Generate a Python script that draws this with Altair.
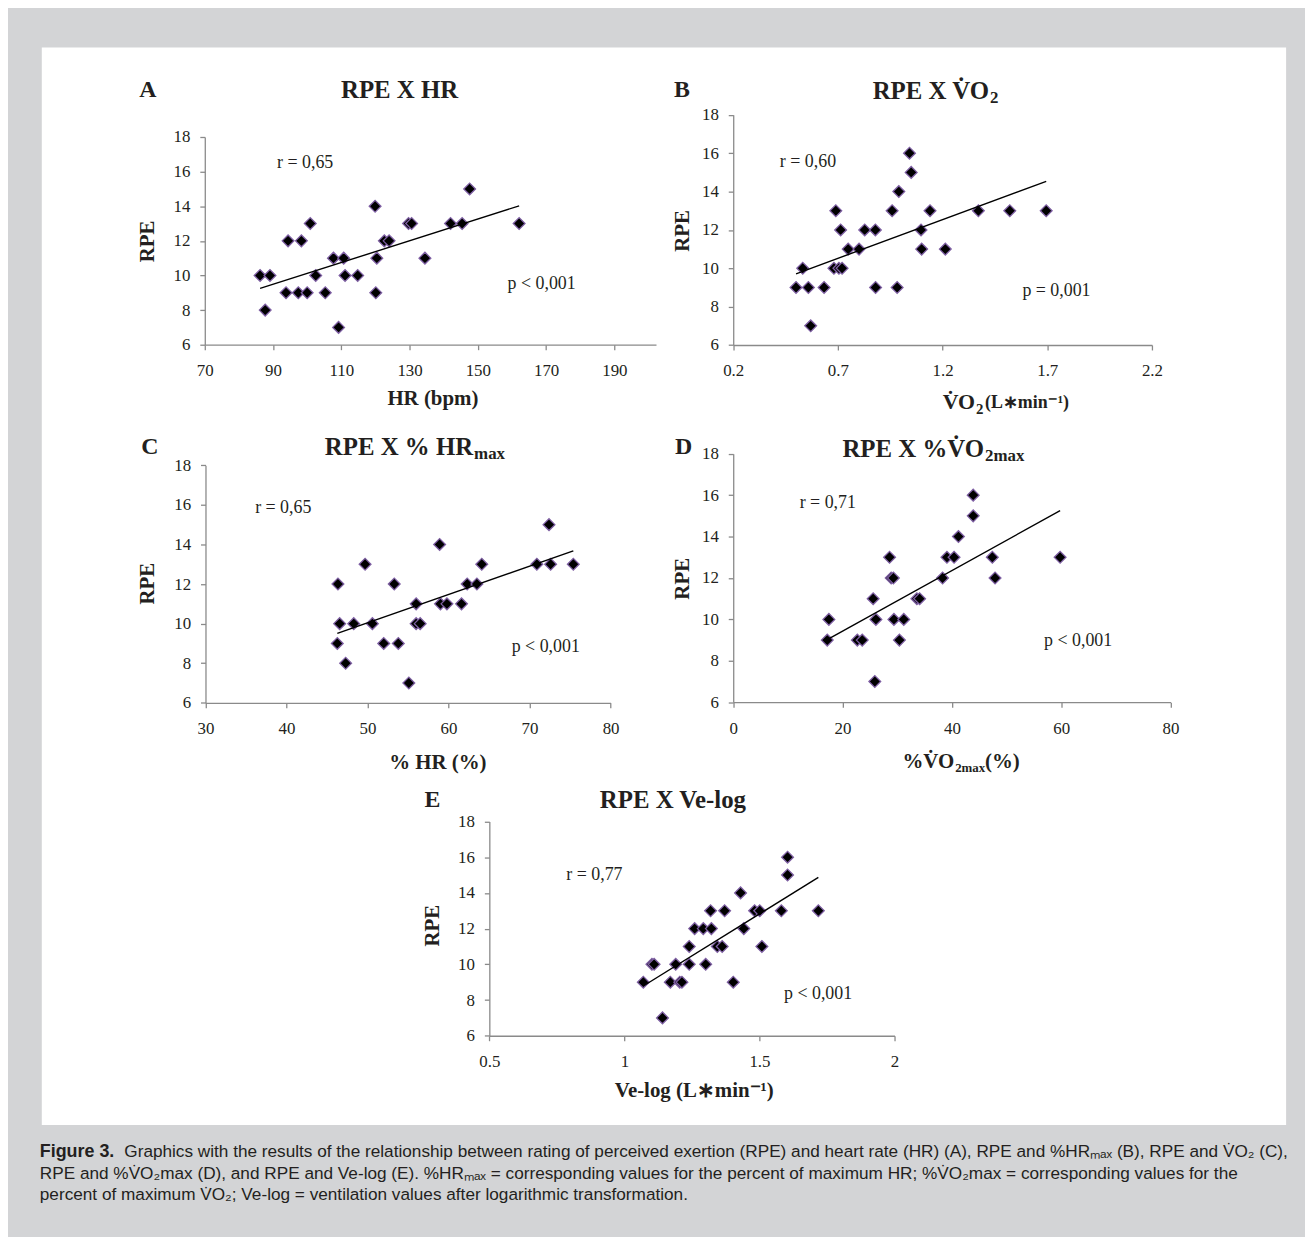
import altair as alt
import pandas as pd

# ---------------- data ----------------
A_hr = [86.2, 89.1, 87.7, 93.8, 94.4, 97.4, 98.3, 100.0, 100.9, 102.5, 105.3, 107.7, 109.2, 110.7,
        111.1, 114.8, 119.9, 120.1, 120.4, 122.6, 124.0, 129.7, 130.6, 134.5, 142.0, 145.4, 147.6, 162.1]
A_rpe = [10, 10, 8, 9, 12, 9, 12, 9, 13, 10, 9, 11, 7, 11, 10, 10, 14, 9, 11, 12, 12, 13, 13, 11, 13, 13, 15, 13]

B_vo2 = [0.50, 0.532, 0.559, 0.570, 0.634, 0.681, 0.690, 0.705, 0.713, 0.720, 0.749, 0.801, 0.828, 0.879,
         0.880, 0.959, 0.983, 0.991, 1.042, 1.050, 1.097, 1.100, 1.140, 1.213, 1.371, 1.521, 1.695]
B_rpe = [9, 10, 9, 7, 9, 10, 13, 10, 12, 10, 11, 11, 12, 12, 9, 13, 9, 14, 16, 15, 12, 11, 13, 11, 13, 13, 13]

C_pct_hr = [46.35, 46.27, 46.56, 47.3, 48.3, 49.7, 50.6, 52.0, 53.3, 53.8, 55.1, 56.0, 56.0, 56.5, 58.9,
            59.0, 59.8, 61.6, 62.3, 63.5, 64.1, 70.9, 72.4, 72.6, 75.4]
C_rpe = [12, 9, 10, 8, 10, 13, 10, 9, 12, 9, 7, 11, 10, 10, 14, 11, 11, 11, 12, 12, 13, 13, 15, 13, 13]

D_pct_vo2 = [17.2, 17.5, 22.7, 23.6, 25.6, 25.9, 26.1, 28.6, 28.9, 29.3, 29.4, 30.4, 31.2, 33.6, 34.1,
             38.3, 39.1, 40.4, 41.2, 43.9, 43.9, 47.4, 47.9, 59.8]
D_rpe = [9, 10, 9, 9, 11, 7, 10, 13, 12, 12, 10, 9, 10, 11, 11, 12, 13, 13, 14, 16, 15, 13, 12, 13]

E_velog = [1.070, 1.102, 1.110, 1.141, 1.170, 1.190, 1.205, 1.213, 1.240, 1.240, 1.260, 1.292, 1.301, 1.319,
           1.322, 1.344, 1.362, 1.371, 1.403, 1.430, 1.442, 1.482, 1.501, 1.509, 1.581, 1.604, 1.604, 1.718]
E_rpe = [9, 10, 10, 7, 9, 10, 9, 9, 11, 10, 12, 12, 10, 13, 12, 11, 11, 13, 9, 14, 12, 13, 13, 11, 13, 16, 15, 13]

RPE_ticks = [6, 8, 10, 12, 14, 16, 18]
A_ticks = [70, 90, 110, 130, 150, 170, 190]
B_ticks = [0.2, 0.7, 1.2, 1.7, 2.2]
C_ticks = [30, 40, 50, 60, 70, 80]
D_ticks = [0, 20, 40, 60, 80]
E_ticks = [0.5, 1, 1.5, 2]

stats_A = ["r = 0,65", "p < 0,001"]
stats_B = ["r = 0,60", "p = 0,001"]
stats_C = ["r = 0,65", "p < 0,001"]
stats_D = ["r = 0,71", "p < 0,001"]
stats_E = ["r = 0,77", "p < 0,001"]

caption_bold = "Figure 3."
caption_lines = [
    "Graphics with the results of the relationship between rating of perceived exertion (RPE) and heart rate (HR) (A), RPE and %HR\u2098\u2090\u2093 (B), RPE and V\u0307O\u2082 (C),",
    "RPE and %V\u0307O\u2082max (D), and RPE and Ve-log (E). %HR\u2098\u2090\u2093 = corresponding values for the percent of maximum HR; %V\u0307O\u2082max = corresponding values for the",
    "percent of maximum V\u0307O\u2082; Ve-log = ventilation values after logarithmic transformation.",
]

# ---------------- layout / style ----------------
W, H = 1305, 1229
M = 8  # page margin
SERIF = "Liberation Serif"
SANS = "Liberation Sans"
TXT = "#231f20"
AXC = "#8a8a8a"
ONE = pd.DataFrame({"d": [0]})


def P(v):
    return v - M


def panel(xs, ys, xdom, xpx, ypx, xticks, xfmt, xtitle, xtitle_at, ytitle_at, stats, stats_at):
    df = pd.DataFrame({"x": xs, "y": ys})
    xl, xr = P(xpx[0]), P(xpx[1])
    yb, yt = P(ypx[0]), P(ypx[1])
    xaxis = alt.Axis(orient="bottom", values=xticks, format=xfmt, offset=yb - H, title=xtitle,
                     titleX=P(xtitle_at[0]), titleY=xtitle_at[1] - ypx[0], titleAlign="center",
                     titleBaseline="middle", labelPadding=13, zindex=1)
    yaxis = alt.Axis(orient="left", values=RPE_ticks, format="d", offset=-xl, title="RPE",
                     titleX=ytitle_at[0] - xpx[0], titleY=P(ytitle_at[1]), titleAngle=270,
                     titleAlign="center", titleBaseline="middle", labelPadding=10, zindex=1)
    X = alt.X("x:Q", scale=alt.Scale(domain=xdom, range=[xl, xr], nice=False, zero=False), axis=xaxis)
    Y = alt.Y("y:Q", scale=alt.Scale(domain=[6, 18], range=[yb, yt], nice=False, zero=False), axis=yaxis)
    pts = alt.Chart(df).mark_point(shape="diamond", filled=True, fill="#000000", stroke="#7e5fa3",
                                   strokeWidth=1.3, size=140, opacity=1, fillOpacity=1).encode(x=X, y=Y)
    fit = alt.Chart(df).transform_regression("x", "y").mark_line(color="#000000", strokeWidth=1.4).encode(x=X, y=Y)
    sdf = pd.DataFrame({"x": [stats_at[0][0], stats_at[1][0]], "y": [stats_at[0][1], stats_at[1][1]], "t": stats})
    txt = alt.Chart(sdf).mark_text(font=SERIF, fontSize=18, color=TXT, align="center", baseline="middle").encode(
        x=X, y=Y, text="t:N")
    return alt.layer(pts, fit, txt)


def label(text, x, y, size, bold=True, align="left", font=SERIF, baseline="middle"):
    return alt.Chart(ONE).mark_text(text=text, font=font, fontSize=size, fontWeight="bold" if bold else "normal",
                                    color=TXT, align=align, baseline=baseline).encode(
        x=alt.value(P(x)), y=alt.value(P(y)))


bg = alt.Chart(ONE).mark_rect(color="#ffffff").encode(
    x=alt.value(P(42)), x2=alt.value(P(1294)), y=alt.value(P(44)), y2=alt.value(P(1128)))

pA = panel(A_hr, A_rpe, [70, 202.2], (206, 660), (343, 134), A_ticks, "d", "HR (bpm)",
           (435, 397), (148, 238.5), stats_A, [(99.4, 16.5), (168.7, 9.49)])
pB = panel(B_vo2, B_rpe, [0.2, 2.2], (737.7, 1159), (343.3, 111.7), B_ticks, ".1f",
           "", (990, 401), (687, 228), stats_B,
           [(0.557, 15.55), (1.744, 8.81)])
pC = panel(C_pct_hr, C_rpe, [30, 80], (206.7, 614.3), (703.3, 464.3), C_ticks, "d", "% HR (%)",
           (440, 763), (148, 583), stats_C, [(39.6, 15.86), (72.0, 8.83)])
pD = panel(D_pct_vo2, D_rpe, [0, 80], (737.7, 1177.7), (702.7, 452.7), D_ticks, "d",
           "", (961, 763), (687, 578), stats_D,
           [(17.3, 15.63), (63.1, 8.96)])
pE = panel(E_velog, E_rpe, [0.5, 2], (492.3, 900), (1038.3, 822.7), E_ticks, "~g",
           "Ve-log (L\u2217min\u207b\u00b9)", (698, 1093), (435, 927), stats_E,
           [(0.889, 14.98), (1.717, 8.36)])

texts = [
    # panel letters and titles
    label("A", 140, 87, 24),
    label("RPE X HR", 402, 87, 25, align="center"),
    label("B", 678, 87, 24),
    label("RPE X V\u0307O", 995, 88, 25, align="right"),
    label("2", 996, 95, 17),
    label("C", 142, 446, 24),
    label("RPE X % HR", 476, 446, 25, align="right"),
    label("max", 477, 453, 17),
    label("D", 679, 446, 24),
    label("RPE X %V\u0307O", 990, 448, 25, align="right"),
    label("2max", 991, 455, 17),
    label("E", 427, 801, 24),
    label("RPE X Ve-log", 677, 801, 25, align="center"),
    # composed x-axis titles for B and D
    label("V\u0307O", 981, 401, 22, align="right"),
    label("2", 982, 408, 15),
    label("(L\u2217min\u207b\u00b9)", 991, 402, 18),
    label("%V\u0307O", 960, 763, 21, align="right"),
    label("2max", 961, 769, 13),
    label("(%)", 991, 763, 21),
    # caption
    label(caption_bold, 40, 1155, 18, bold=True, font=SANS),
    label(caption_lines[0], 125, 1155, 17.3, bold=False, font=SANS),
    label(caption_lines[1], 40, 1177, 17.3, bold=False, font=SANS),
    label(caption_lines[2], 40, 1199, 17.3, bold=False, font=SANS),
]

chart = alt.layer(bg, pA, pB, pC, pD, pE, *texts).resolve_scale(
    x="independent", y="independent"
).properties(
    width=W, height=H, background="#d3d4d6", padding=0, autosize="none"
).configure_view(stroke=None).configure_axis(
    grid=False, domainColor=AXC, tickColor=AXC, domainWidth=1.3, tickWidth=1.3, tickSize=5,
    labelFont=SERIF, labelFontSize=17, labelColor=TXT, titleFont=SERIF, titleFontSize=21,
    titleFontWeight="bold", titleColor=TXT, labelFlush=False, labelOverlap=False
)

chart.save("out.html", embed_options={"renderer": "svg", "actions": False})
